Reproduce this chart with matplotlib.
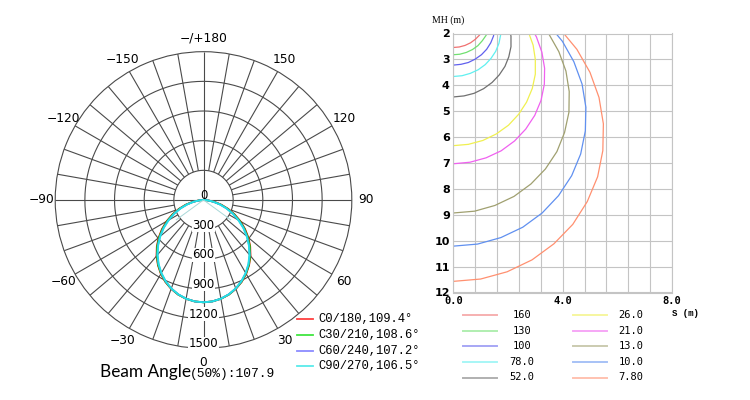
import numpy as np
import matplotlib.pyplot as plt
from matplotlib.lines import Line2D
from matplotlib.transforms import ScaledTranslation

# --- polar photometric curve: intensity (cd) vs gamma angle, per C-plane
gamma = [0, 5, 10, 15, 20, 25, 30, 35, 40, 45, 50, 55, 60, 65, 70, 75, 80, 85, 90]
c0_180 = [1035, 1030, 1015, 991, 957, 914, 863, 804, 739, 668, 592, 513, 431, 348, 267, 187, 113, 47, 0]
c30_210 = [1035, 1030, 1015, 990, 955, 912, 860, 801, 735, 663, 586, 506, 424, 342, 260, 182, 109, 45, 0]
c60_240 = [1035, 1030, 1014, 988, 953, 908, 855, 794, 727, 653, 576, 495, 412, 330, 249, 172, 101, 41, 0]
c90_270 = [1035, 1030, 1014, 988, 952, 906, 852, 791, 722, 648, 570, 489, 406, 324, 243, 167, 98, 39, 0]
plane_labels = ['C0/180,109.4°', 'C30/210,108.6°', 'C60/240,107.2°', 'C90/270,106.5°']
plane_colors = ['#ff0000', '#00dd00', '#6464ff', '#22e4e4']
beam_angle = 107.9
ring_values = [300, 600, 900, 1200, 1500]
angle_ticks = [0, 30, 60, 90, 120, 150, 180, -150, -120, -90, -60, -30]
angle_labels = ['0', '30', '60', '90', '120', '150', '\u2212/+180',
                '\u2212150', '\u2212120', '\u221290', '\u221260', '\u221230']

# --- spread chart: mounting height MH (m) vs spread S (m) for each level
levels = ['160', '130', '100', '78.0', '52.0', '26.0', '21.0', '13.0', '10.0', '7.80']
level_colors = ['#f07070', '#70e070', '#6060ee', '#60f0f0', '#707070',
                '#f0f050', '#f060f0', '#a0a070', '#6090f0', '#ff9070']
s_160 = [0, 0.22, 0.43, 0.63, 0.81, 0.96, 1.08]
mh_160 = [2.54, 2.52, 2.46, 2.36, 2.22, 2.06, 1.86]
s_130 = [0, 0.24, 0.48, 0.70, 0.90, 1.06, 1.20, 1.29]
mh_130 = [2.82, 2.80, 2.73, 2.62, 2.47, 2.28, 2.07, 1.84]
s_100 = [0, 0.28, 0.55, 0.80, 1.03, 1.22, 1.37, 1.47, 1.52]
mh_100 = [3.22, 3.19, 3.12, 2.99, 2.82, 2.61, 2.36, 2.10, 1.82]
s_78 = [0, 0.32, 0.62, 0.91, 1.17, 1.38, 1.55, 1.67, 1.73, 1.74]
mh_78 = [3.66, 3.63, 3.54, 3.40, 3.20, 2.96, 2.69, 2.38, 2.06, 1.74]
s_52 = [0, 0.39, 0.76, 1.11, 1.42, 1.68, 1.89, 2.03, 2.11, 2.11, 2.05]
mh_52 = [4.45, 4.41, 4.31, 4.13, 3.89, 3.60, 3.27, 2.90, 2.51, 2.11, 1.72]
s_26 = [0, 0.55, 1.08, 1.57, 2.02, 2.39, 2.68, 2.89, 3.00, 3.00, 2.92, 2.74]
mh_26 = [6.33, 6.28, 6.13, 5.88, 5.54, 5.12, 4.65, 4.12, 3.57, 3.00, 2.45, 1.92]
s_21 = [0, 0.61, 1.20, 1.75, 2.24, 2.65, 2.98, 3.21, 3.33, 3.34, 3.24, 3.04, 2.74]
mh_21 = [7.03, 6.97, 6.80, 6.53, 6.15, 5.69, 5.16, 4.58, 3.96, 3.34, 2.72, 2.13, 1.58]
s_13 = [0, 0.78, 1.52, 2.22, 2.84, 3.37, 3.79, 4.07, 4.23, 4.24, 4.12, 3.86, 3.49, 3.01]
mh_13 = [8.93, 8.86, 8.64, 8.29, 7.81, 7.23, 6.56, 5.82, 5.04, 4.24, 3.45, 2.70, 2.01, 1.40]
s_10 = [0, 0.89, 1.74, 2.54, 3.25, 3.85, 4.33, 4.66, 4.83, 4.85, 4.71, 4.41, 3.99, 3.44]
mh_10 = [10.21, 10.13, 9.88, 9.48, 8.93, 8.26, 7.49, 6.65, 5.76, 4.85, 3.95, 3.09, 2.30, 1.60]
s_7_8 = [0, 1.00, 1.97, 2.88, 3.68, 4.37, 4.90, 5.28, 5.47, 5.49, 5.33, 5.00, 4.52, 3.90]
mh_7_8 = [11.57, 11.48, 11.20, 10.74, 10.12, 9.37, 8.49, 7.53, 6.52, 5.49, 4.47, 3.50, 2.61, 1.82]
s_values = [s_160, s_130, s_100, s_78, s_52, s_26, s_21, s_13, s_10, s_7_8]
mh_values = [mh_160, mh_130, mh_100, mh_78, mh_52, mh_26, mh_21, mh_13, mh_10, mh_7_8]
mh_ticks = [2, 3, 4, 5, 6, 7, 8, 9, 10, 11, 12]
s_ticks = [0.0, 4.0, 8.0]
s_grid = [0.8, 1.6, 2.4, 3.2, 4.8, 5.6, 6.4, 7.2]

W, H = 750, 400
fig = plt.figure(figsize=(7.5, 4), dpi=100)

def fx(px):
    return px / W

def fy(py):
    return 1 - py / H

# ---------------- polar diagram
gc = '#4a4a4a'
ax = fig.add_axes([0.0736, 0.1293, 0.3955, 0.7415], projection='polar')
ax.set_theta_zero_location('S')
ax.set_theta_direction(1)
ax.grid(False)
ax.set_xticks([])
ax.set_yticks([])
ax.set_rlim(0, 1500)
ax.spines['polar'].set_color(gc)
ax.spines['polar'].set_linewidth(0.8)

th = np.linspace(0, 2 * np.pi, 361)
for rv in ring_values[:-1]:
    ax.plot(th, np.full_like(th, rv), color=gc, lw=0.8)
ax.vlines(np.radians(np.arange(0, 360, 10)), ring_values[0], ring_values[-1], colors=gc, lw=0.8)
ax.vlines(np.radians([90, 180, 270]), 0, ring_values[0], colors=gc, lw=0.8)

g = np.array(gamma)
for vals, col in zip([c0_180, c30_210, c60_240, c90_270], plane_colors):
    v = np.array(vals)
    ax.plot(np.radians(np.concatenate([-g[::-1], g[1:]])),
            np.concatenate([v[::-1], v[1:]]), color=col, lw=1.3)

# half beam angle guides
hb = beam_angle / 2
ax.plot(np.radians([-hb, 0, hb]), [340, 0, 340], color='#a8d8d8', lw=0.7)

for a, lab in zip(angle_ticks, angle_labels):
    ax.text(np.radians(a), 1640, lab, ha='center', va='center', fontsize=8.8,
            family='DejaVu Sans', clip_on=False)
ax.text(np.pi, 48, '0', ha='center', va='center', fontsize=8.5)
for rv in ring_values:
    ax.text(0, rv - 45, str(rv), ha='center', va='center', fontsize=8.5,
            bbox=dict(facecolor='white', edgecolor='none', pad=0.3))

# legend of C-planes
rows = [319, 335, 351, 366]
for lab, col, yy in zip(plane_labels, plane_colors, rows):
    fig.add_artist(Line2D([fx(297), fx(313)], [fy(yy), fy(yy)], color=col, lw=1.3, alpha=0.75))
    fig.text(fx(318), fy(yy), lab, family='Liberation Mono', fontsize=8.7, va='center')

fig.text(fx(100), fy(377), 'Beam Angle', family='Lato', fontsize=12.4, va='baseline')
fig.text(fx(190), fy(377), '(50%):107.9', family='Liberation Mono', fontsize=9.3, va='baseline')

# ---------------- spread chart
ax2 = fig.add_axes([0.6044, 0.26875, 0.2916, 0.6475])
ax2.set_xlim(0, 8)
ax2.set_ylim(12, 2)
for s, mh, col in zip(s_values, mh_values, level_colors):
    ax2.plot(s, mh, color=col, lw=0.9)
ax2.set_xticks(s_ticks)
ax2.set_xticklabels(['%.1f' % v for v in s_ticks], family='DejaVu Sans Mono',
                    fontsize=7.5, fontweight='bold')
ax2.set_xticks(s_grid, minor=True)
ax2.set_yticks(mh_ticks)
ax2.set_yticklabels([str(v) for v in mh_ticks], fontsize=8, fontweight='bold')
up = ScaledTranslation(0, 5 / 100, fig.dpi_scale_trans)
for lab in ax2.get_yticklabels():
    lab.set_transform(lab.get_transform() + up)
ax2.grid(True, which='both', color='#c4c4c4', lw=0.8)
ax2.tick_params(which='both', length=0)
ax2.tick_params(axis='x', pad=2.8)
ax2.tick_params(axis='y', pad=2.5)
for sp in ax2.spines.values():
    sp.set_color('#c4c4c4')
    sp.set_linewidth(0.8)

fig.text(fx(432), fy(20), 'MH (m)', family='Liberation Serif', fontsize=7, va='center')
fig.text(fx(672), fy(313), 'S (m)', family='Liberation Mono', fontsize=6.5,
         fontweight='bold', va='center')

# legend of levels
leg_rows = [315, 330.7, 346, 361.7, 377.5]
for i, (lab, col) in enumerate(zip(levels, level_colors)):
    yy = leg_rows[i % 5]
    x0, xc = (463, 521.7) if i < 5 else (573, 631)
    fig.add_artist(Line2D([fx(x0), fx(x0 + 34)], [fy(yy), fy(yy)], color=col, lw=1.4, alpha=0.55))
    fig.text(fx(xc), fy(yy), lab, family='DejaVu Sans Mono', fontsize=7.5,
             ha='center', va='center')

fig.savefig('out.png', dpi=100)
